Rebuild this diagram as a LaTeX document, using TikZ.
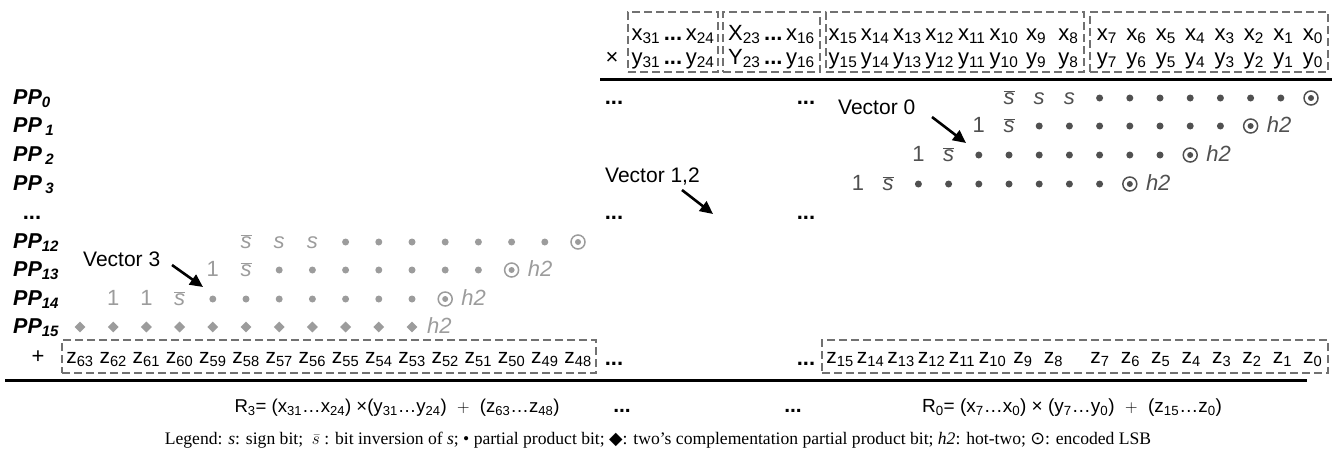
\documentclass[tikz,border=0pt]{standalone}
\usepackage{fontspec}
\setmainfont{Liberation Sans}
\newfontfamily\legfont{Liberation Serif}
\newfontfamily\symfont{DejaVu Sans}
\usetikzlibrary{arrows.meta,shapes.geometric}

\definecolor{boxgray}{HTML}{717171}
\definecolor{darkbit}{HTML}{505050}
\definecolor{lightbit}{HTML}{9C9C9C}

\newcommand{\sinv}{$\overline{\mbox{\textit{s}}}$}
\newcommand{\dts}{\textbf{...}}

\tikzset{
  bitbox/.style={draw=boxgray, line width=2.6pt, dash pattern=on 8pt off 4pt, inner sep=0pt},
  hdr/.style={font=\fontsize{22}{24}\selectfont, inner sep=0pt, anchor=base},
  zlbl/.style={font=\fontsize{21}{24}\selectfont, inner sep=0pt, anchor=base},
  pplbl/.style={font=\fontsize{21.5}{24}\selectfont\bfseries\itshape, inner sep=0pt, anchor=base west},
  bit/.style={font=\fontsize{22}{24}\selectfont, inner sep=0pt, anchor=base},
  ppdot/.style={circle, fill, inner sep=0pt, minimum size=7pt},
  lsb/.style={circle, draw, line width=1.5pt, inner sep=0pt, minimum size=14pt,
    path picture={\fill (path picture bounding box.center) circle (3pt);}},
  twos/.style={diamond, fill, inner sep=0pt, minimum size=11pt},
  veclbl/.style={font=\fontsize{21}{24}\selectfont, inner sep=0pt, anchor=base west},
  vecarrow/.style={-{Triangle[length=13pt,width=12pt]}, line width=2.6pt},
  sumline/.style={line width=3pt}
}

\begin{document}
\begin{tikzpicture}[x=1pt,y=-1pt]
  \useasboundingbox (0,0) rectangle (1332,451);

  % Operandos x e y
  \node[bitbox, minimum width=90pt, minimum height=60pt] (bx1) at (673,42) {};
  \node[bitbox, minimum width=97pt, minimum height=60pt] (bx2) at (771.5,42) {};
  \node[bitbox, minimum width=258pt, minimum height=60pt] (bx3) at (955,42) {};
  \node[bitbox, minimum width=238pt, minimum height=60pt] (bx4) at (1209,42) {};
  \node[hdr] (xa) at (673,40) {x\textsubscript{31}\,\dts\,x\textsubscript{24}};
  \node[hdr] (ya) at (673,64) {y\textsubscript{31}\,\dts\,y\textsubscript{24}};
  \node[hdr] (xb) at (771.5,40) {X\textsubscript{23}\,\dts\,x\textsubscript{16}};
  \node[hdr] (yb) at (771.5,64) {Y\textsubscript{23}\,\dts\,y\textsubscript{16}};
  \foreach \i [count=\k from 0] in {15,14,...,8} {
    \node[hdr] (x\i) at ({843+32.2*\k},40) {x\textsubscript{\i}};
    \node[hdr] (y\i) at ({843+32.2*\k},64) {y\textsubscript{\i}};
  }
  \foreach \i [count=\k from 0] in {7,6,...,0} {
    \node[hdr] (x\i) at ({1107+29.4*\k},40) {x\textsubscript{\i}};
    \node[hdr] (y\i) at ({1107+29.4*\k},64) {y\textsubscript{\i}};
  }
  \node[hdr] (times) at (612,64) {×};
  \draw[sumline] (600,79) -- (1332,79);

  % Rotulos dos produtos parciais
  \foreach \t/\b [count=\k] in {PP\textsubscript{0}/104, PP\,\textsubscript{1}/132,
      PP\,\textsubscript{2}/161, PP\,\textsubscript{3}/190, PP\textsubscript{12}/248,
      PP\textsubscript{13}/276, PP\textsubscript{14}/305, PP\textsubscript{15}/333}
    \node[pplbl] (pp\k) at (13,\b) {\t};
  \node[hdr] (ldots) at (32,219) {\dts};

  % Vetor 0: PP0 a PP3
  \node[bit, darkbit] (r0inv) at ({1311-30.2*10},104) {\sinv};
  \node[bit, darkbit] (r0sa) at ({1311-30.2*9},104) {\textit{s}};
  \node[bit, darkbit] (r0sb) at ({1311-30.2*8},104) {\textit{s}};
  \foreach \c in {1,...,7} \node[ppdot, darkbit] (r0d\c) at ({1311-30.2*\c},98) {};
  \node[lsb, darkbit] (r0l) at (1311,98) {};
  \foreach \r/\b in {1/132,2/161,3/190} {
    \node[bit, darkbit] (r\r one) at ({1311-30.2*(2*\r+9)},\b) {1};
    \node[bit, darkbit] (r\r inv) at ({1311-30.2*(2*\r+8)},\b) {\sinv};
    \foreach \c in {1,...,7} \node[ppdot, darkbit] (r\r d\c) at ({1311-30.2*(2*\r+\c)},\b-6) {};
    \node[lsb, darkbit] (r\r l) at ({1311-30.2*2*\r},\b-6) {};
    \node[bit, darkbit, anchor=base west] (r\r h) at ({1311-30.2*2*\r+16},\b) {\textit{h2}};
  }

  % Vetor 3: PP12 a PP15
  \node[bit, lightbit] (l0inv) at ({578-33.2*10},248) {\sinv};
  \node[bit, lightbit] (l0sa) at ({578-33.2*9},248) {\textit{s}};
  \node[bit, lightbit] (l0sb) at ({578-33.2*8},248) {\textit{s}};
  \foreach \c in {1,...,7} \node[ppdot, lightbit] (l0d\c) at ({578-33.2*\c},242) {};
  \node[lsb, lightbit] (l0l) at (578,242) {};
  \node[bit, lightbit] (l1one) at ({578-33.2*11},276) {1};
  \node[bit, lightbit] (l1inv) at ({578-33.2*10},276) {\sinv};
  \foreach \c in {3,...,9} \node[ppdot, lightbit] (l1d\c) at ({578-33.2*\c},270) {};
  \node[lsb, lightbit] (l1l) at ({578-33.2*2},270) {};
  \node[bit, lightbit, anchor=base west] (l1h) at ({578-33.2*2+16},276) {\textit{h2}};
  \node[bit, lightbit] (l2onea) at ({578-33.2*14},305) {1};
  \node[bit, lightbit] (l2oneb) at ({578-33.2*13},305) {1};
  \node[bit, lightbit] (l2inv) at ({578-33.2*12},305) {\sinv};
  \foreach \c in {5,...,11} \node[ppdot, lightbit] (l2d\c) at ({578-33.2*\c},299) {};
  \node[lsb, lightbit] (l2l) at ({578-33.2*4},299) {};
  \node[bit, lightbit, anchor=base west] (l2h) at ({578-33.2*4+16},305) {\textit{h2}};
  \foreach \c in {5,...,15} \node[twos, lightbit] (l3d\c) at ({578-33.2*\c},327) {};
  \node[bit, lightbit, anchor=base west] (l3h) at ({578-33.2*5+15},333) {\textit{h2}};

  % Setas dos vetores
  \node[veclbl] (v0) at (838,114) {Vector 0};
  \node[veclbl] (v12) at (605,182) {Vector 1,2};
  \node[veclbl] (v3) at (83,266) {Vector 3};
  \coordinate (v0a) at (932,117);  \coordinate (v0b) at (966,143);
  \coordinate (v12a) at (682,190); \coordinate (v12b) at (713,214);
  \coordinate (v3a) at (172,265);  \coordinate (v3b) at (203,287);
  \draw[vecarrow] (v0a) -- (v0b);
  \draw[vecarrow] (v12a) -- (v12b);
  \draw[vecarrow] (v3a) -- (v3b);

  % Pontos intermediarios
  \foreach \y [count=\k] in {104,219,365} {
    \node[hdr] (ma\k) at (614,\y) {\dts};
    \node[hdr] (mb\k) at (806,\y) {\dts};
  }

  % Acumulador z
  \node[hdr] (plus) at (38,363) {+};
  \node[bitbox, minimum width=534pt, minimum height=33pt] (zbl) at (329,356.5) {};
  \foreach \i [count=\k from 0] in {63,62,...,48}
    \node[zlbl] (z\i) at ({80+33.2*\k},363) {z\textsubscript{\i}};
  \node[bitbox, minimum width=506pt, minimum height=33pt] (zbr) at (1075,356.5) {};
  \foreach \i [count=\k from 0] in {15,14,...,8}
    \node[zlbl] (z\i) at ({840+30.5*\k},363) {z\textsubscript{\i}};
  \foreach \i [count=\k from 0] in {7,6,...,0}
    \node[zlbl] (z\i) at ({1100+30.4*\k},363) {z\textsubscript{\i}};
  \draw[sumline] (5,380) -- (1307,380);

  % Resultados
  \node[zlbl, font=\fontsize{18.6}{22}\selectfont] (res3) at (397,412) {R\textsubscript{3}= (x\textsubscript{31}…x\textsubscript{24}) ×(y\textsubscript{31}…y\textsubscript{24})\ \ $+$\ \ (z\textsubscript{63}…z\textsubscript{48})};
  \node[zlbl] (mr1) at (622,412) {\dts};
  \node[zlbl] (mr2) at (793,412) {\dts};
  \node[zlbl, font=\fontsize{19}{22}\selectfont] (res0) at (1072,412) {R\textsubscript{0}= (x\textsubscript{7}…x\textsubscript{0}) × (y\textsubscript{7}…y\textsubscript{0})\ \ $+$\ \ (z\textsubscript{15}…z\textsubscript{0})};

  % Legenda
  \node[font=\legfont\fontsize{17.6}{22}\selectfont, inner sep=0pt, anchor=base] (legend) at (658,444)
    {Legend: \textit{s}: sign bit;\ \ $\bar{s}$ : bit inversion of \textit{s}; • partial product bit; {\symfont ◆}: two’s complementation partial product bit; \textit{h2}: hot-two; {\symfont ⊙}: encoded LSB};
\end{tikzpicture}
\end{document}
